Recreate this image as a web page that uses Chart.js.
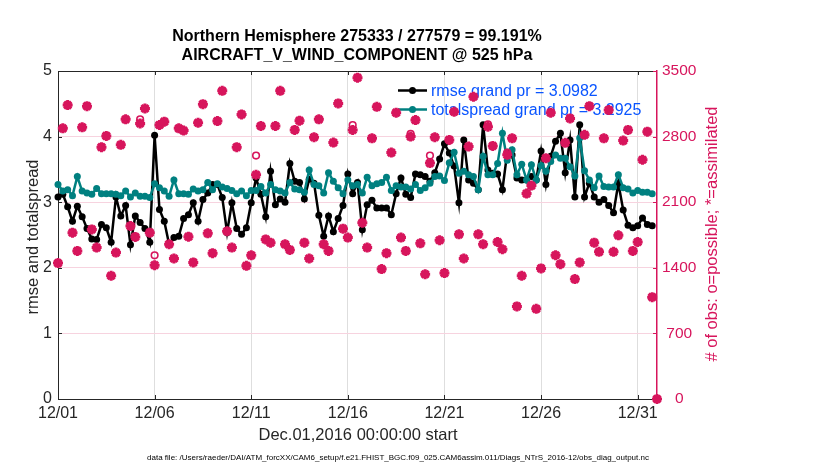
<!DOCTYPE html>
<html>
<head>
<meta charset="utf-8">
<title>obs_diag rmse / totalspread</title>
<script src="https://cdn.jsdelivr.net/npm/chart.js@4.4.1/dist/chart.umd.min.js"></script>
<style>
  html, body { margin: 0; padding: 0; background: #fff; }
  #wrap { width: 830px; height: 470px; }
</style>
</head>
<body>
<div id="wrap"><canvas id="chartObsDiag" width="830" height="470"></canvas></div>
<script>
// 6-hourly bins starting Dec.01,2016 00:00.
const STEP_DAYS = 0.25;

const rmse = [
  3.08, 3.12, 2.93, 2.71, 2.94, 2.78, 2.60, 2.44, 2.43, 2.66, 2.61, 2.39, 3.08, 2.79, 2.95, 2.35,
  2.79, 2.69, 2.60, 2.39, 4.02, 2.89, 2.71, 2.36, 2.46, 2.48, 2.75, 2.81, 2.99, 2.71, 3.04, 3.14,
  3.27, 3.27, 3.07, 2.54, 2.99, 2.60, 2.51, 2.61, 2.99, 3.37, 3.12, 2.78, 3.47, 2.96, 3.05, 3.00,
  3.59, 3.32, 3.30, 3.05, 3.35, 3.29, 2.80, 2.48, 2.79, 2.55, 2.75, 2.95, 3.43, 3.13, 3.30, 2.58,
  2.96, 3.03, 2.91, 2.91, 2.91, 2.81, 3.13, 3.37, 3.12, 3.07, 3.43, 3.42, 3.39, 3.32, 3.45, 3.66,
  3.89, 3.75, 3.55, 2.99, 3.95, 3.34, 3.29, 3.19, 4.18, 3.49, 3.44, 3.43, 3.19, 3.76, 3.72, 3.37,
  3.34, 3.34, 3.39, 3.34, 3.78, 3.27, 3.70, 3.93, 4.05, 3.45, 3.95, 3.08, 4.18, 3.08, 3.29, 3.08,
  3.00, 3.04, 2.95, 2.84, 3.29, 2.88, 2.65, 2.61, 2.64, 2.76, 2.66, 2.64, null,
];

const totalspread = [
  3.27, 3.17, 3.19, 3.10, 3.39, 3.17, 3.14, 3.12, 3.21, 3.13, 3.13, 3.13, 3.12, 3.10, 3.17, 3.08,
  3.14, 3.09, 3.09, 3.07, 3.28, 3.22, 3.17, 3.09, 3.34, 3.13, 3.13, 3.12, 3.20, 3.17, 3.19, 3.30,
  3.19, 3.28, 3.23, 3.21, 3.18, 3.13, 3.17, 3.10, 3.18, 3.18, 3.24, 3.14, 3.27, 3.19, 3.17, 3.14,
  3.30, 3.20, 3.19, 3.15, 3.49, 3.27, 3.25, 3.14, 3.45, 3.32, 3.22, 3.13, 3.34, 3.25, 3.27, 3.14,
  3.38, 3.25, 3.28, 3.30, 3.38, 3.18, 3.25, 3.23, 3.23, 3.20, 3.27, 3.18, 3.22, 3.29, 3.39, 3.40,
  3.33, 3.60, 3.76, 3.44, 3.47, 3.42, 3.39, 3.19, 3.70, 3.42, 3.42, 3.59, 4.05, 3.64, 3.80, 3.42,
  3.58, 3.34, 3.57, 3.34, 3.56, 3.47, 3.62, 3.72, 3.67, 3.67, 3.54, 3.40, 3.98, 3.48, 3.34, 3.22,
  3.40, 3.24, 3.23, 3.23, 3.42, 3.22, 3.20, 3.14, 3.18, 3.15, 3.15, 3.13, null,
];

const obsAssimilated = [
  1450, 2888, 3136, 1775, 1580, 2899, 3125, 1810, 1616, 2687, 2807, 1315, 1562, 2712, 2984, 1845,
  1729, 2941, 3100, 1775, 1428, 2924, 2959, 1651, 1499, 2888, 2864, 1732, 1457, 2948, 3146, 1768,
  1556, 2966, 3288, 1790, 1616, 2687, 3037, 1421, 1533, 2393, 2913, 1703, 1668, 2913, 3288, 1651,
  1591, 2871, 2970, 1668, 1499, 2793, 2984, 1651, 1580, 2736, 3154, 1817, 1722, 2871, 3429, 1881,
  1616, 2782, 3118, 1386, 1556, 2630, 3055, 1722, 1580, 2800, 2976, 1661, 1331, 2517, 2793, 1694,
  1344, 2765, 3065, 1757, 1499, 2694, 3225, 1757, 1651, 2906, 2701, 1675, 1598, 2606, 2782, 988,
  1315, 2192, 2277, 962, 1393, 2570, 3055, 1534, 1439, 2734, 2994, 1280, 1457, 2819, 3125, 1668,
  1570, 2782, 3083, 1570, 1746, 2758, 2871, 1580, 1675, 2553, 2853, 1087, 0,
];

const obsPossible = [
  1450, 2888, 3136, 1775, 1580, 2899, 3125, 1810, 1616, 2687, 2807, 1315, 1562, 2712, 2984, 1845,
  1729, 2984, 3100, 1775, 1533, 2924, 2959, 1651, 1499, 2888, 2864, 1732, 1457, 2948, 3146, 1768,
  1556, 2966, 3288, 1790, 1616, 2687, 3037, 1421, 1533, 2597, 2913, 1703, 1668, 2913, 3288, 1651,
  1591, 2871, 2970, 1668, 1499, 2793, 2984, 1651, 1580, 2736, 3154, 1817, 1722, 2924, 3429, 1881,
  1616, 2782, 3118, 1386, 1556, 2630, 3055, 1722, 1580, 2830, 2976, 1661, 1331, 2597, 2793, 1694,
  1344, 2765, 3065, 1757, 1499, 2694, 3225, 1757, 1651, 2930, 2701, 1675, 1598, 2630, 2782, 988,
  1315, 2192, 2277, 962, 1393, 2570, 3055, 1534, 1439, 2734, 2994, 1280, 1457, 2819, 3125, 1668,
  1570, 2782, 3083, 1570, 1746, 2758, 2871, 1580, 1675, 2553, 2853, 1087, 0,
];

const xTickDays = [0, 5, 10, 15, 20, 25, 30];
const xTickLabels = ['12/01', '12/06', '12/11', '12/16', '12/21', '12/26', '12/31'];

const titleLines = [
  'Northern Hemisphere 275333 / 277579 = 99.191%',
  'AIRCRAFT_V_WIND_COMPONENT @ 525 hPa',
];
const legendLabels = ['rmse grand pr = 3.0982', 'totalspread grand pr = 3.2925'];

const FONT = '"Liberation Sans", Arial, Helvetica, sans-serif';
const theme = {
  text: '#262626',
  crimson: '#d7155c',
  teal: '#008080',
  blue: '#0a55ff',
  xGrid: '#dedede',
  yGrid: '#f7d3df',
};

function toPoints(values) {
  return values.map((v, i) => ({ x: i * STEP_DAYS, y: v }));
}

const decorations = {
  id: 'decorations',
  beforeDatasetsDraw(chart) {
    const { ctx, chartArea: a, scales } = chart;
    ctx.save();

    // top frame line
    ctx.strokeStyle = theme.text;
    ctx.lineWidth = 1;
    ctx.beginPath();
    ctx.moveTo(a.left, a.top + 0.5);
    ctx.lineTo(a.right, a.top + 0.5);
    ctx.stroke();

    // inward tick marks, MATLAB style
    const tl = 4;
    ctx.beginPath();
    xTickDays.forEach((d) => {
      const px = Math.round(scales.x.getPixelForValue(d)) + 0.5;
      ctx.moveTo(px, a.bottom);
      ctx.lineTo(px, a.bottom - tl);
      ctx.moveTo(px, a.top);
      ctx.lineTo(px, a.top + tl);
    });
    scales.y.ticks.forEach((t) => {
      const py = Math.round(scales.y.getPixelForValue(t.value)) + 0.5;
      ctx.moveTo(a.left, py);
      ctx.lineTo(a.left + tl, py);
    });
    ctx.stroke();

    ctx.strokeStyle = theme.crimson;
    ctx.beginPath();
    scales.y2.ticks.forEach((t) => {
      const py = Math.round(scales.y2.getPixelForValue(t.value)) + 0.5;
      ctx.moveTo(a.right, py);
      ctx.lineTo(a.right - tl, py);
    });
    ctx.stroke();

    // legend (belongs to the left axes, so the obs markers sit above it)
    const colors = ['#000000', theme.teal];
    const rows = [90.5, 109.5];
    ctx.font = `16px ${FONT}`;
    ctx.textBaseline = 'middle';
    ctx.textAlign = 'left';
    rows.forEach((y, i) => {
      ctx.strokeStyle = colors[i];
      ctx.lineWidth = 2.5;
      ctx.beginPath();
      ctx.moveTo(398, y);
      ctx.lineTo(427, y);
      ctx.stroke();
      ctx.fillStyle = colors[i];
      ctx.beginPath();
      ctx.arc(412.5, y, 3.5, 0, Math.PI * 2);
      ctx.fill();
      ctx.fillStyle = theme.blue;
      ctx.fillText(legendLabels[i], 431, y + 1);
    });
    ctx.restore();
  },
  afterDraw(chart) {
    const { ctx } = chart;
    ctx.save();
    ctx.textAlign = 'center';
    ctx.textBaseline = 'middle';

    ctx.fillStyle = '#000';
    ctx.font = `bold 16px ${FONT}`;
    ctx.fillText(titleLines[0], 357, 37);
    ctx.fillText(titleLines[1], 357, 56);

    ctx.fillStyle = theme.text;
    ctx.font = `16.5px ${FONT}`;
    ctx.fillText('Dec.01,2016 00:00:00 start', 358, 435);

    ctx.save();
    ctx.translate(33, 237);
    ctx.rotate(-Math.PI / 2);
    ctx.fillText('rmse and totalspread', 0, 0);
    ctx.restore();

    ctx.save();
    ctx.translate(712, 234);
    ctx.rotate(-Math.PI / 2);
    ctx.fillStyle = theme.crimson;
    ctx.fillText('# of obs: o=possible; *=assimilated', 0, 0);
    ctx.restore();

    ctx.fillStyle = '#000';
    ctx.font = `8px ${FONT}`;
    ctx.fillText('data file: /Users/raeder/DAI/ATM_forcXX/CAM6_setup/f.e21.FHIST_BGC.f09_025.CAM6assim.011/Diags_NTrS_2016-12/obs_diag_output.nc', 398, 458);
    ctx.restore();
  },
};

function createObsDiagChart() {
  const canvas = document.getElementById('chartObsDiag');
  if (!canvas) return null;
  const ctx = canvas.getContext('2d');

  return new Chart(ctx, {
    type: 'line',
    data: {
      datasets: [
        {
          label: 'assimilated',
          data: toPoints(obsAssimilated),
          yAxisID: 'y2',
          showLine: false,
          pointStyle: 'star',
          pointRadius: 5,
          pointBorderWidth: 3,
          borderColor: theme.crimson,
          backgroundColor: theme.crimson,
          clip: false,
          order: 0,
        },
        {
          label: 'possible',
          data: toPoints(obsPossible),
          yAxisID: 'y2',
          showLine: false,
          pointStyle: 'circle',
          pointRadius: 3.3,
          pointBorderWidth: 1.6,
          borderColor: theme.crimson,
          backgroundColor: 'rgba(0,0,0,0)',
          clip: false,
          order: 1,
        },
        {
          label: 'totalspread',
          data: toPoints(totalspread),
          yAxisID: 'y',
          borderColor: theme.teal,
          backgroundColor: theme.teal,
          borderWidth: 2.5,
          pointRadius: 3.5,
          pointBorderWidth: 0,
          tension: 0,
          clip: false,
          order: 2,
        },
        {
          label: 'rmse',
          data: toPoints(rmse),
          yAxisID: 'y',
          borderColor: '#000000',
          backgroundColor: '#000000',
          borderWidth: 2.5,
          pointRadius: 3.5,
          pointBorderWidth: 0,
          tension: 0,
          clip: false,
          order: 3,
        },
      ],
    },
    options: {
      responsive: false,
      animation: false,
      devicePixelRatio: 1,
      layout: { padding: { top: 71, left: 0, right: 0, bottom: 0 } },
      plugins: {
        legend: { display: false },
        title: { display: false },
        tooltip: { enabled: false },
      },
      scales: {
        x: {
          type: 'linear',
          min: 0,
          max: 31,
          afterBuildTicks: (scale) => {
            scale.ticks = xTickDays.map((v) => ({ value: v }));
          },
          afterFit: (scale) => { scale.height = 71; },
          grid: { color: theme.xGrid, lineWidth: 1, drawTicks: false },
          border: { display: true, color: theme.text, width: 1 },
          ticks: {
            color: theme.text,
            font: { family: FONT, size: 16 },
            padding: 5,
            maxRotation: 0,
            autoSkip: false,
            callback: (v) => {
              const i = xTickDays.indexOf(v);
              return i >= 0 ? xTickLabels[i] : '';
            },
          },
        },
        y: {
          position: 'left',
          min: 0,
          max: 5,
          afterFit: (scale) => { scale.width = 58; },
          grid: { display: false, drawTicks: false },
          border: { display: true, color: theme.text, width: 1 },
          ticks: {
            stepSize: 1,
            color: theme.text,
            font: { family: FONT, size: 16 },
            padding: 6,
          },
        },
        y2: {
          position: 'right',
          min: 0,
          max: 3500,
          afterFit: (scale) => { scale.width = 173; },
          grid: { color: theme.yGrid, lineWidth: 1, drawTicks: false },
          border: { display: true, color: theme.crimson, width: 1.5 },
          ticks: {
            stepSize: 700,
            color: theme.crimson,
            font: { family: FONT, size: 15.5 },
            padding: 5,
            crossAlign: 'center',
            callback: (v) => String(v),
          },
        },
      },
    },
    plugins: [decorations],
  });
}

createObsDiagChart();
</script>
</body>
</html>
